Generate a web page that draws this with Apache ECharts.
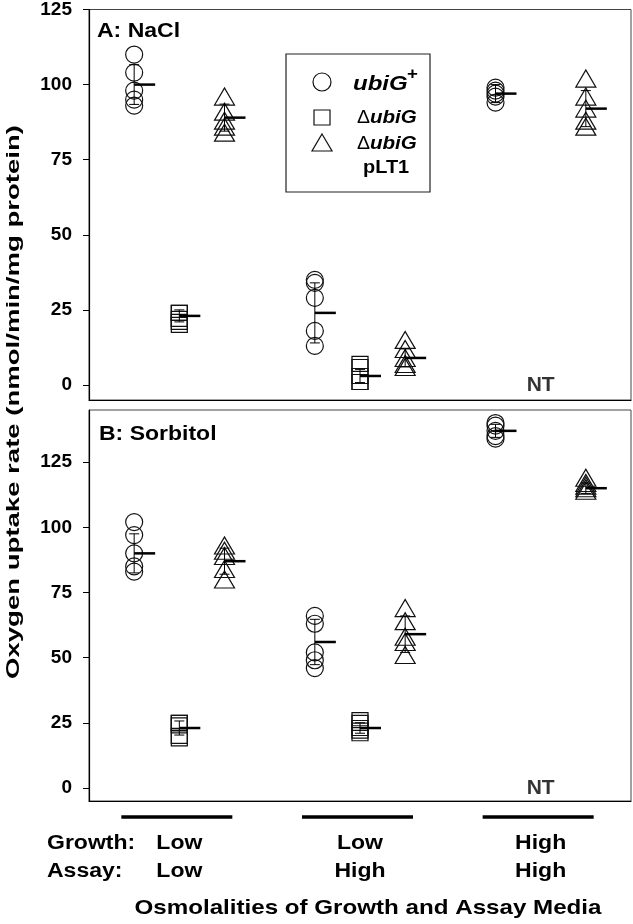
<!DOCTYPE html>
<html>
<head>
<meta charset="utf-8">
<script src="https://cdn.jsdelivr.net/npm/echarts@6/dist/echarts.min.js"></script>
<style>
  body { margin: 0; background: #fff; }
  #chart { width: 633px; height: 924px; }
</style>
</head>
<body>
<div id="chart"></div>
<script>
// tick labels / groups
var yTicks = [0, 25, 50, 75, 100, 125];
var groupGrowth = ['Low', 'Low', 'High'];
var groupAssay = ['Low', 'High', 'High'];
var groupX = [2, 6, 10];

// x slots for each strain
var ubiX = [1, 5, 9];
var delX = [2, 6];
var pltX = [3, 7, 11];
var ntX = 10;

// A: NaCl
var naclUbi = [[110, 104, 98, 95, 93], [35, 34, 29, 18, 13], [99, 98, 97, 96, 94]];
var naclUbiMean = [100, 24, 97];
var naclUbiSd = [6.6, 10, 3];
var naclDel = [[24, 24, 22, 21, 20], [7, 6, 3, 1, 1]];
var naclDelMean = [23, 3];
var naclDelSd = [2, 2.2];
var naclPlt = [[96, 91, 88, 86, 84], [15, 12, 9, 7, 6], [102, 96, 92, 88, 86]];
var naclPltMean = [89, 9, 92];
var naclPltSd = [4.5, 3, 6];

// B: Sorbitol
var sorbUbi = [[102, 97, 90, 85, 83], [66, 63, 52, 49, 46], [140, 139, 137, 135, 134]];
var sorbUbiMean = [90, 56, 137];
var sorbUbiSd = [7.5, 8.7, 2.5];
var sorbDel = [[25, 25, 24, 20, 19], [26, 25, 23, 22, 21]];
var sorbDelMean = [23, 23];
var sorbDelSd = [2.7, 2];
var sorbPlt = [[93, 91, 89, 84, 80], [69, 64, 58, 56, 51], [119, 117, 116, 115, 114]];
var sorbPltMean = [87, 59, 115];
var sorbPltSd = [5, 7, 2];

var FONT = '"Liberation Sans", Arial, sans-serif';

function points(xs, groups) {
  var out = [];
  for (var i = 0; i < groups.length; i++) {
    for (var j = 0; j < groups[i].length; j++) out.push([xs[i], groups[i][j]]);
  }
  return out;
}
function bars(xs, means, sds) {
  var out = [];
  for (var i = 0; i < means.length; i++) out.push([xs[i], means[i], sds[i]]);
  return out;
}

// error bar + short mean tick to the right
function renderErr(params, api) {
  var x = api.value(0), m = api.value(1), s = api.value(2);
  var c = api.coord([x, m]);
  var t = api.coord([x, m + s]);
  var b = api.coord([x, m - s]);
  var thin = { stroke: '#000', lineWidth: 1 };
  return {
    type: 'group',
    children: [
      { type: 'line', shape: { x1: c[0], y1: t[1], x2: c[0], y2: b[1] }, style: thin },
      { type: 'line', shape: { x1: c[0] - 5, y1: t[1], x2: c[0] + 5, y2: t[1] }, style: thin },
      { type: 'line', shape: { x1: c[0] - 5, y1: b[1], x2: c[0] + 5, y2: b[1] }, style: thin },
      { type: 'line', shape: { x1: c[0], y1: c[1], x2: c[0] + 21, y2: c[1] }, style: { stroke: '#000', lineWidth: 2.5 } }
    ]
  };
}

var hollow = { color: 'rgba(0,0,0,0)', borderColor: '#111', borderWidth: 1.2, opacity: 1 };

function scatter(idx, data, symbol, size) {
  return {
    type: 'scatter', xAxisIndex: idx, yAxisIndex: idx, data: data,
    symbol: symbol, symbolSize: size, itemStyle: hollow, z: 2
  };
}
function errSeries(idx, data) {
  return {
    type: 'custom', xAxisIndex: idx, yAxisIndex: idx, data: data,
    encode: { x: 0, y: 1 }, renderItem: renderErr, z: 3
  };
}
function ntSeries(idx) {
  return {
    type: 'scatter', xAxisIndex: idx, yAxisIndex: idx, data: [[ntX, 0]],
    symbolSize: 0,
    label: { show: true, position: 'inside', formatter: 'NT', color: '#000',
      fontFamily: FONT, fontWeight: 'bold', fontSize: 21 }
  };
}

function yAxis(idx, max) {
  return {
    type: 'value', gridIndex: idx, min: -5, max: max,
    splitLine: { show: false },
    axisLine: { show: true, lineStyle: { color: '#000', width: 1.2 } },
    axisTick: { show: true, customValues: yTicks, length: 6, lineStyle: { color: '#000' } },
    axisLabel: { customValues: yTicks, margin: 17, color: '#000',
      fontFamily: FONT, fontWeight: 'bold', fontSize: 19 }
  };
}
function xAxis(idx) {
  return {
    type: 'value', gridIndex: idx, min: 0, max: 12,
    splitLine: { show: false },
    axisLine: { show: true, onZero: false, lineStyle: { color: '#000', width: 1.2 } },
    axisTick: { show: false }, axisLabel: { show: false }
  };
}

var chart = echarts.init(document.getElementById('chart'));

var option = {
  animation: false,
  backgroundColor: '#fff',
  grid: [
    { left: 89, top: 8, width: 542, height: 392, show: true, borderColor: '#444', borderWidth: 1 },
    { left: 89, top: 410, width: 542, height: 391, show: true, borderColor: '#444', borderWidth: 1 }
  ],
  xAxis: [xAxis(0), xAxis(1)],
  yAxis: [yAxis(0, 125), yAxis(1, 145)],
  series: [
    scatter(0, points(ubiX, naclUbi), 'circle', 17),
    scatter(0, points(delX, naclDel), 'rect', [16, 15]),
    scatter(0, points(pltX, naclPlt), 'triangle', [20, 17]),
    errSeries(0, bars(ubiX, naclUbiMean, naclUbiSd)),
    errSeries(0, bars(delX, naclDelMean, naclDelSd)),
    errSeries(0, bars(pltX, naclPltMean, naclPltSd)),
    ntSeries(0),
    scatter(1, points(ubiX, sorbUbi), 'circle', 17),
    scatter(1, points(delX, sorbDel), 'rect', [16, 15]),
    scatter(1, points(pltX, sorbPlt), 'triangle', [20, 17]),
    errSeries(1, bars(ubiX, sorbUbiMean, sorbUbiSd)),
    errSeries(1, bars(delX, sorbDelMean, sorbDelSd)),
    errSeries(1, bars(pltX, sorbPltMean, sorbPltSd)),
    ntSeries(1)
  ]
};
chart.setOption(option);

function txt(x, y, text, size, align, sx, extra) {
  var el = {
    type: 'text', x: x, y: y, scaleX: sx, z: 10,
    style: {
      text: text, fill: '#000', font: 'bold ' + size + 'px ' + FONT,
      align: align, verticalAlign: 'middle', textAlign: align, textVerticalAlign: 'middle'
    }
  };
  if (extra) for (var k in extra) el[k] = extra[k];
  return el;
}

var els = [];
// panel titles
els.push(txt(97, 31, 'A: NaCl', 20, 'left', 1.15));
els.push(txt(99, 434, 'B: Sorbitol', 20, 'left', 1.15));
// y axis title
els.push(txt(14, 402, 'Oxygen uptake rate (nmol/min/mg protein)', 18, 'center', 1.53, { rotation: Math.PI / 2 }));

// legend box
els.push({ type: 'rect', shape: { x: 286, y: 54, width: 144, height: 138 },
  style: { fill: '#fff', stroke: '#222', lineWidth: 1.2 }, z: 9 });
els.push({ type: 'circle', shape: { cx: 322, cy: 82, r: 9 },
  style: { fill: 'none', stroke: '#111', lineWidth: 1.2 }, z: 10 });
els.push({ type: 'rect', shape: { x: 314, y: 110, width: 16, height: 15 },
  style: { fill: 'none', stroke: '#111', lineWidth: 1.2 }, z: 10 });
els.push({ type: 'polygon', shape: { points: [[322, 134], [332, 151], [312, 151]] },
  style: { fill: 'none', stroke: '#111', lineWidth: 1.2 }, z: 10 });
els.push({ type: 'text', x: 353, y: 84, scaleX: 1.2, z: 10,
  style: { text: 'ubiG', fill: '#000', font: 'italic bold 20px ' + FONT,
    align: 'left', verticalAlign: 'middle', textAlign: 'left', textVerticalAlign: 'middle' } });
els.push(txt(407, 74, '+', 17, 'left', 1.1));
var deltaRich = { d: { fontFamily: FONT, fontWeight: 'normal', fontSize: 18 },
                  i: { fontFamily: FONT, fontWeight: 'bold', fontStyle: 'italic', fontSize: 19 } };
els.push({ type: 'text', x: 357, y: 118, scaleX: 1.08, z: 10,
  style: { text: '{d|Δ}{i|ubiG}', fill: '#000', font: 'bold 19px ' + FONT,
    align: 'left', verticalAlign: 'middle', textAlign: 'left', textVerticalAlign: 'middle', rich: deltaRich } });
els.push({ type: 'text', x: 357, y: 144, scaleX: 1.08, z: 10,
  style: { text: '{d|Δ}{i|ubiG}', fill: '#000', font: 'bold 19px ' + FONT,
    align: 'left', verticalAlign: 'middle', textAlign: 'left', textVerticalAlign: 'middle', rich: deltaRich } });
els.push(txt(363, 168, 'pLT1', 19, 'left', 1.05));

// group bars and labels under panel B
for (var i = 0; i < groupX.length; i++) {
  var cx = chart.convertToPixel({ xAxisIndex: 1 }, groupX[i]);
  els.push({ type: 'line', shape: { x1: cx - 58, y1: 817, x2: cx + 53, y2: 817 },
    style: { stroke: '#000', lineWidth: 3.5 }, z: 10 });
  els.push(txt(cx, 843, groupGrowth[i], 20, 'center', 1.15));
  els.push(txt(cx, 871, groupAssay[i], 20, 'center', 1.15));
}
els.push(txt(47, 843, 'Growth:', 20, 'left', 1.15));
els.push(txt(47, 871, 'Assay:', 20, 'left', 1.15));
els.push(txt(368, 908, 'Osmolalities of Growth and Assay Media', 21, 'center', 1.15));

chart.setOption({ graphic: { elements: els } });
</script>
</body>
</html>
